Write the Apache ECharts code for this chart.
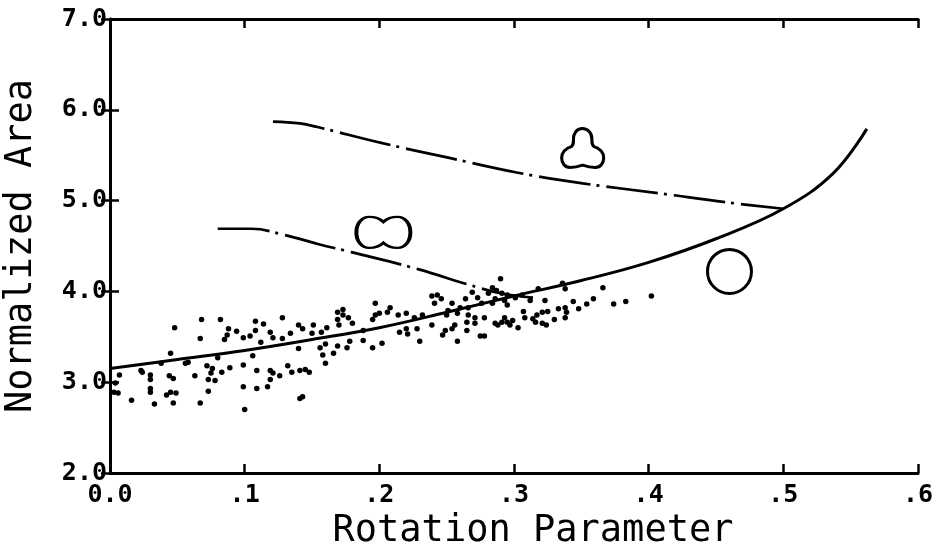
<!DOCTYPE html>
<html>
<head>
<meta charset="utf-8">
<style>
  html, body { margin: 0; padding: 0; background: #fff; }
  #chart { width: 939px; height: 546px; }
</style>
<script src="https://cdn.jsdelivr.net/npm/echarts@6/dist/echarts.min.js"></script>
</head>
<body>
<div id="chart"></div>
<script>
// ticks
const xTicks = [0, 0.1, 0.2, 0.3, 0.4, 0.5, 0.6]
const yTicks = [2, 3, 4, 5, 6, 7]

// solid curve (circle)
const solidX = [0, 0.05, 0.1, 0.15, 0.2, 0.25, 0.3, 0.35, 0.4, 0.45, 0.5, 0.537, 0.562]
const solidY = [3.15, 3.25, 3.35, 3.47, 3.60, 3.77, 3.95, 4.12, 4.32, 4.58, 4.91, 5.30, 5.79]

// dash-dot curve (three lobes)
const trefoilX = [0.121, 0.141, 0.154, 0.203, 0.252, 0.302, 0.351, 0.408, 0.458, 0.5]
const trefoilY = [5.87, 5.85, 5.81, 5.63, 5.47, 5.31, 5.19, 5.08, 4.98, 4.91]

// dash-dot curve (two lobes)
const peanutX = [0.08, 0.105, 0.13, 0.155, 0.18, 0.23, 0.265, 0.29, 0.315]
const peanutY = [4.69, 4.69, 4.62, 4.52, 4.43, 4.24, 4.08, 3.98, 3.93]

// measured points
const dots = [
  [.048,3.60],[.068,3.69],[.082,3.69],[.088,3.59],[.094,3.56],[.087,3.52],[.085,3.47],[.067,3.48],[.099,3.49],[.045,3.32],
  [.007,3.08],[.004,2.99],[.006,2.88],[.016,2.80],[.024,3.11],[.030,3.08],[.030,3.03],[.044,3.07],[.047,3.04],[.030,2.93],
  [.030,2.89],[.042,2.86],[.045,2.89],[.049,2.88],[.033,2.76],[.047,2.77],[.067,2.77],[.073,2.90],[.063,3.07],[.072,3.18],
  [.075,3.10],[.078,3.02],[.076,3.15],[.073,3.03],[.083,3.11],[.089,3.16],[.099,3.19],[.099,2.95],[.100,2.70],[.038,3.21],
  [.056,3.21],[.003,2.89],[.023,3.13],[.058,3.22],[.080,3.27],
  [.128,3.71],[.108,3.67],[.114,3.64],[.108,3.57],[.104,3.51],[.112,3.44],[.119,3.55],[.121,3.49],[.128,3.48],[.134,3.54],
  [.140,3.63],[.143,3.59],[.151,3.63],[.150,3.54],[.157,3.55],[.161,3.60],[.169,3.77],[.173,3.80],[.173,3.74],[.177,3.71],
  [.169,3.69],[.180,3.65],[.197,3.87],[.197,3.74],[.195,3.69],[.170,3.63],[.188,3.57],[.178,3.45],[.188,3.46],[.195,3.38],
  [.176,3.38],[.169,3.40],[.160,3.42],[.156,3.38],[.158,3.30],[.166,3.32],[.160,3.21],[.140,3.37],[.106,3.29],[.109,3.13],
  [.119,3.13],[.121,3.10],[.126,3.07],[.132,3.18],[.135,3.11],[.141,3.13],[.145,3.14],[.148,3.11],[.119,3.03],[.117,2.95],
  [.109,2.93],[.141,2.82],[.143,2.84],
  [.290,4.14],[.284,4.04],[.287,4.01],[.281,3.98],[.291,3.98],[.295,3.96],[.286,3.92],[.293,3.90],[.284,3.87],[.295,3.85],
  [.269,3.99],[.273,3.93],[.276,3.87],[.264,3.92],[.266,3.82],[.260,3.82],[.254,3.87],[.251,3.79],[.246,3.92],[.243,3.96],
  [.239,3.95],[.241,3.87],[.250,3.74],[.258,3.76],[.266,3.74],[.271,3.71],[.278,3.71],[.286,3.65],[.291,3.66],[.295,3.66],
  [.288,3.63],[.265,3.66],[.271,3.65],[.256,3.63],[.254,3.59],[.249,3.57],[.247,3.52],[.265,3.57],[.258,3.45],[.275,3.51],
  [.278,3.51],[.239,3.63],[.232,3.74],[.226,3.71],[.220,3.76],[.214,3.74],[.208,3.82],[.206,3.77],[.200,3.76],[.215,3.55],
  [.220,3.59],[.228,3.59],[.221,3.53],[.230,3.45],[.202,3.43],
  [.318,4.03],[.301,3.93],[.306,3.96],[.312,3.90],[.323,3.90],[.336,4.09],[.338,4.03],[.366,4.04],[.344,3.89],[.359,3.92],
  [.354,3.86],[.348,3.81],[.338,3.82],[.339,3.77],[.333,3.81],[.338,3.71],[.330,3.69],[.325,3.78],[.321,3.77],[.317,3.74],
  [.314,3.70],[.316,3.66],[.321,3.65],[.324,3.63],[.308,3.71],[.307,3.78],[.299,3.68],[.297,3.63],[.303,3.60],[.293,3.71],
  [.374,3.86],[.383,3.89],[.402,3.95]
]

// shape glyph positions
const circlePos = [0.460, 4.22]
const trefoilPos = [0.351, 5.58]
const peanutPos = [0.203, 4.65]

// outline glyphs drawn as symbol paths
const trefoilPath = 'path://M49,0 C63,0 72,12 72,27 C72,35 71,40 76,45 C90,50 100,60 100,74 ' +
  'C100,88 92,98 80,98 C68,98 58,95 50,92 C42,95 32,98 20,98 C8,98 0,88 0,74 ' +
  'C0,60 10,50 24,45 C29,40 28,35 28,27 C28,12 36,0 49,0 Z'
const peanutPath = 'path://M50,9 C43,3 33,0 24,0 C9,0 0,13 0,28 C0,43 9,56 24,56 ' +
  'C33,56 43,53 50,47 C57,53 67,56 76,56 C91,56 100,43 100,28 C100,13 91,0 76,0 ' +
  'C67,0 57,3 50,9 Z'

const FONT = 'DejaVu Sans Mono'

function zip(xs, ys) {
  return xs.map((x, i) => [x, ys[i]])
}

function xLabel(v) {
  if (Math.abs(v) < 1e-9) return '0.0'
  return '.' + Math.round(v * 10)
}

const axisLine = { lineStyle: { color: '#000', width: 3 } }
const axisTick = { inside: true, length: 9, lineStyle: { color: '#000', width: 2.5 } }
const outline = { color: 'rgba(0,0,0,0)', borderColor: '#000', borderWidth: 3, opacity: 1 }

const chart = echarts.init(document.getElementById('chart'))
chart.setOption({
  backgroundColor: '#fff',
  animation: false,
  grid: { left: 110, right: 21, top: 19, bottom: 73, outerBoundsMode: 'none', containLabel: false },
  xAxis: [{
    type: 'value',
    min: xTicks[0],
    max: xTicks[xTicks.length - 1],
    interval: 0.1,
    axisLine: axisLine,
    axisTick: axisTick,
    splitLine: { show: false },
    axisLabel: {
      formatter: xLabel,
      color: '#000',
      fontFamily: FONT,
      fontWeight: 'bold',
      fontSize: 25,
      margin: 10
    },
    name: 'Rotation Parameter',
    nameLocation: 'middle',
    nameGap: 38,
    nameTextStyle: {
      color: '#000',
      fontFamily: FONT,
      fontSize: 37,
      padding: [0, 0, 0, 38]
    }
  }, {
    type: 'value',
    position: 'top',
    min: xTicks[0],
    max: xTicks[xTicks.length - 1],
    interval: 0.1,
    axisLine: axisLine,
    axisTick: axisTick,
    axisLabel: { show: false },
    splitLine: { show: false }
  }],
  yAxis: [{
    type: 'value',
    min: yTicks[0],
    max: yTicks[yTicks.length - 1],
    interval: 1,
    axisLine: axisLine,
    axisTick: axisTick,
    splitLine: { show: false },
    axisLabel: {
      formatter: v => v.toFixed(1),
      color: '#000',
      fontFamily: FONT,
      fontWeight: 'bold',
      fontSize: 25,
      margin: 3
    },
    name: 'Normalized Area',
    nameLocation: 'middle',
    nameRotate: 90,
    nameGap: 70,
    nameTextStyle: {
      color: '#000',
      fontFamily: FONT,
      fontSize: 37
    }
  }, {
    type: 'value',
    position: 'right',
    min: yTicks[0],
    max: yTicks[yTicks.length - 1],
    interval: 1,
    axisLine: axisLine,
    axisTick: axisTick,
    axisLabel: { show: false },
    splitLine: { show: false }
  }],
  series: [
    {
      type: 'scatter',
      data: dots,
      symbol: 'circle',
      symbolSize: 5.5,
      itemStyle: { color: '#000', opacity: 1 },
      z: 2
    },
    {
      type: 'line',
      data: zip(solidX, solidY),
      smooth: 0.4,
      showSymbol: false,
      lineStyle: { color: '#000', width: 3 },
      z: 3
    },
    {
      type: 'line',
      data: zip(trefoilX, trefoilY),
      smooth: 0.4,
      showSymbol: false,
      lineStyle: { color: '#000', width: 2.7, type: [52, 6, 3, 7] },
      z: 3
    },
    {
      type: 'line',
      data: zip(peanutX, peanutY),
      smooth: 0.4,
      showSymbol: false,
      lineStyle: { color: '#000', width: 2.7, type: [52, 6, 3, 7] },
      z: 3
    },
    {
      type: 'scatter',
      data: [circlePos],
      symbol: 'circle',
      symbolSize: 44,
      itemStyle: outline,
      z: 4
    },
    {
      type: 'scatter',
      data: [trefoilPos],
      symbol: trefoilPath,
      symbolSize: [42, 39],
      itemStyle: outline,
      z: 4
    },
    {
      type: 'scatter',
      data: [peanutPos],
      symbol: peanutPath,
      symbolSize: [54, 31],
      itemStyle: outline,
      z: 4
    }
  ]
})
</script>
</body>
</html>
